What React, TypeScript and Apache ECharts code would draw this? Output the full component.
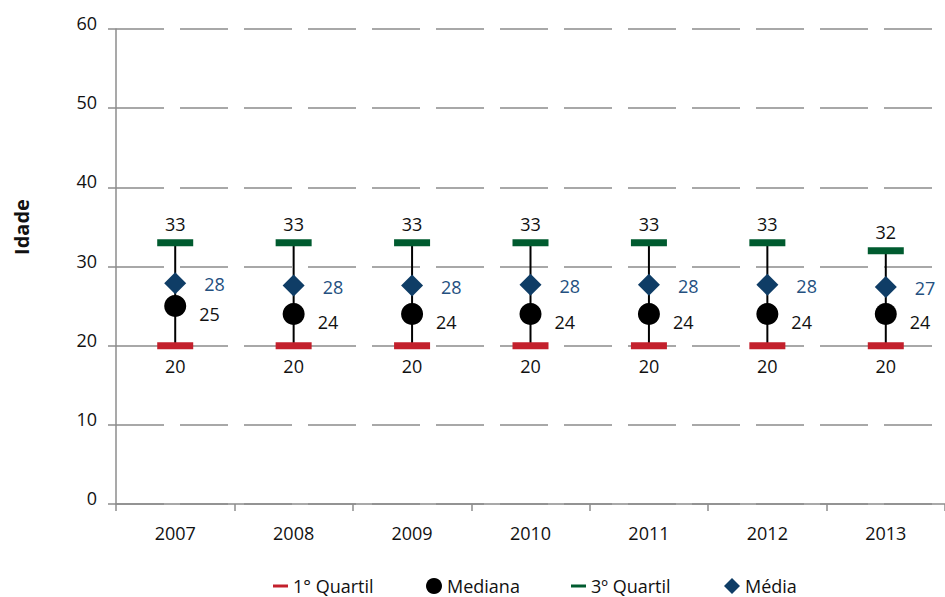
import React, { useEffect, useRef } from "react";
import * as echarts from "echarts";

// ---- data ----
const years = ["2007", "2008", "2009", "2010", "2011", "2012", "2013"];
const q1 = [20, 20, 20, 20, 20, 20, 20];
const median = [25, 24, 24, 24, 24, 24, 24];
const q3 = [33, 33, 33, 33, 33, 33, 32];
const mean = [27.9, 27.6, 27.6, 27.7, 27.7, 27.7, 27.4];
const seriesNames = ["1° Quartil", "Mediana", "3º Quartil", "Média"];
const yAxisTitle = "Idade";

const FONT = '"Open Sans", "Noto Sans", sans-serif';
const GRAY = "#8c8c8c";
const RED = "#c3202c";
const GREEN = "#005b2f";
const BLUE = "#0f3d66";
const BLUE_TEXT = "#24507f";
const TEXT = "#111111";

export default function App() {
  const ref = useRef<HTMLDivElement>(null);

  useEffect(() => {
    document.body.style.margin = "0";
    if (!ref.current) return;
    const chart = echarts.init(ref.current, undefined, { renderer: "svg" });

    const labelBase = { show: true, fontFamily: FONT, fontSize: 18, color: TEXT };

    const legendCommon = {
      top: 577,
      padding: 0,
      selectedMode: false,
      itemGap: 0,
      textStyle: { fontFamily: FONT, fontSize: 18, color: TEXT },
    };

    const option: any = {
      animation: false,
      backgroundColor: "#ffffff",
      grid: { left: 116, right: -11, top: 29, bottom: 93, containLabel: false },
      xAxis: {
        type: "category",
        data: years,
        boundaryGap: true,
        axisLine: { show: true, lineStyle: { color: GRAY, width: 1.5 } },
        axisTick: { show: true, length: 7, alignWithLabel: false, lineStyle: { color: GRAY, width: 1.5 } },
        axisLabel: { margin: 20, color: TEXT, fontFamily: FONT, fontSize: 18 },
        splitLine: { show: false },
      },
      yAxis: {
        type: "value",
        min: 0,
        max: 60,
        interval: 10,
        axisLine: { show: true, lineStyle: { color: GRAY, width: 1.5 } },
        axisTick: { show: true, length: 8, lineStyle: { color: GRAY, width: 1.5 } },
        axisLabel: {
          margin: 19,
          color: TEXT,
          fontFamily: FONT,
          fontSize: 18,
          verticalAlign: "bottom",
          lineHeight: 12,
        },
        splitLine: { show: true, lineStyle: { color: GRAY, width: 1.5, type: [48, 16] } },
      },
      legend: [
        { ...legendCommon, left: 273, itemWidth: 15, itemHeight: 3, data: [{ name: seriesNames[0], icon: "rect" }] },
        { ...legendCommon, left: 426, itemWidth: 16, itemHeight: 16, data: [{ name: seriesNames[1], icon: "circle" }] },
        { ...legendCommon, left: 571, itemWidth: 15, itemHeight: 3, data: [{ name: seriesNames[2], icon: "rect" }] },
        { ...legendCommon, left: 724, itemWidth: 16, itemHeight: 16, data: [{ name: seriesNames[3], icon: "diamond" }] },
      ],
      graphic: [
        {
          type: "text",
          x: 21,
          y: 227,
          rotation: Math.PI / 2,
          style: {
            text: yAxisTitle,
            fontFamily: FONT,
            fontSize: 20,
            fontWeight: "bold",
            fill: TEXT,
            textAlign: "center",
            textVerticalAlign: "middle",
          },
        },
      ],
      series: [
        {
          name: "range",
          type: "custom",
          z: 1,
          encode: { x: 0, y: [1, 2] },
          data: years.map((_, i) => [i, q1[i], q3[i]]),
          renderItem: (params: any, api: any) => {
            const a = api.coord([api.value(0), api.value(1)]);
            const b = api.coord([api.value(0), api.value(2)]);
            return {
              type: "line",
              shape: { x1: a[0], y1: a[1], x2: b[0], y2: b[1] },
              style: { stroke: "#000", lineWidth: 2 },
            };
          },
        },
        {
          name: seriesNames[0],
          type: "scatter",
          z: 3,
          data: q1,
          symbol: "rect",
          symbolSize: [36, 7],
          itemStyle: { color: RED, opacity: 1 },
          label: { ...labelBase, position: "bottom", distance: 8 },
        },
        {
          name: seriesNames[1],
          type: "scatter",
          z: 3,
          data: median,
          symbol: "circle",
          symbolSize: 22,
          itemStyle: { color: "#000000", opacity: 1 },
          label: { ...labelBase, position: "right", distance: 13, offset: [0, 8] },
        },
        {
          name: seriesNames[2],
          type: "scatter",
          z: 3,
          data: q3,
          symbol: "rect",
          symbolSize: [36, 7],
          itemStyle: { color: GREEN, opacity: 1 },
          label: { ...labelBase, position: "top", distance: 6 },
        },
        {
          name: seriesNames[3],
          type: "scatter",
          z: 3,
          data: mean,
          symbol: "diamond",
          symbolSize: 22,
          itemStyle: { color: BLUE, opacity: 1 },
          label: {
            ...labelBase,
            color: BLUE_TEXT,
            position: "right",
            distance: 18,
            offset: [0, 1],
            formatter: (p: any) => String(Math.round(p.value)),
          },
        },
      ],
    };

    chart.setOption(option);
    return () => chart.dispose();
  }, []);

  return <div ref={ref} style={{ width: 945, height: 597 }} />;
}
